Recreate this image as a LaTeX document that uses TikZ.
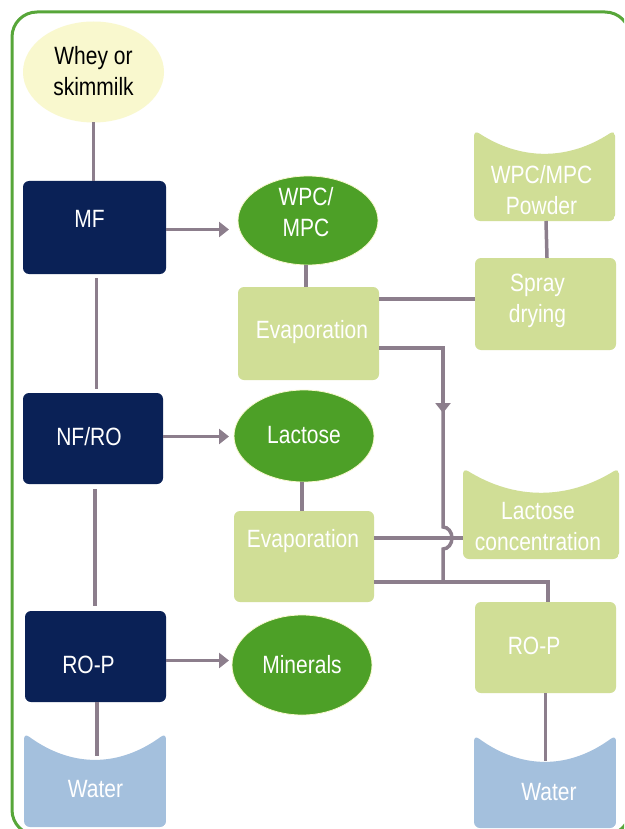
\documentclass[tikz,border=0pt]{standalone}
\usepackage{fontspec}
\setmainfont{Liberation Sans}[FakeStretch=0.84]
\usetikzlibrary{shapes.geometric,arrows.meta,calc}
\definecolor{navy}{HTML}{0A2156}
\definecolor{dgreen}{HTML}{4DA027}
\definecolor{lgreen}{HTML}{D0DE96}
\definecolor{lyellow}{HTML}{F9F8CE}
\definecolor{lblue}{HTML}{A4C0DD}
\definecolor{linegrey}{HTML}{8C7E8C}
\definecolor{bordergreen}{HTML}{57A639}
\tikzset{
  txt/.style={font=\fontsize{25}{31}\selectfont, align=center, text=white},
  box/.style={rectangle, rounded corners=6pt, inner sep=0pt, outer sep=0pt},
  navybox/.style={box, fill=navy},
  lgbox/.style={box, fill=lgreen},
  ell/.style={ellipse, inner sep=0pt, outer sep=0pt},
  gell/.style={ell, fill=dgreen, draw=lyellow, line width=0.8pt},
  concave/.style 2 args={box, path picture={
    \fill[#1] let \p1=(path picture bounding box.north west),
                  \p2=(path picture bounding box.south east) in
      (\x1,\y1) .. controls ({\x1+(\x2-\x1)/3},{\y1-4/3*#2}) and ({\x1+2*(\x2-\x1)/3},{\y1-4/3*#2}) .. (\x2,\y1)
      -- (\x2,\y2) -- (\x1,\y2) -- cycle;}},
  conn/.style={draw=linegrey, line width=3.5pt},
  arr/.style={-{Triangle[length=10pt,width=15pt]}},
}
\begin{document}
\begin{tikzpicture}[x=1pt,y=-1pt]
\clip (0,0) rectangle (624,829);
\fill[white] (0,0) rectangle (624,829);
\draw[bordergreen, line width=3pt, rounded corners=25pt] (12,12) rectangle (630,835);

% left column
\node[ell, fill=lyellow, minimum width=141pt, minimum height=101pt,
      label={[txt,text=black,shift={(0,-1)}]center:Whey or\\skimmilk}] (whey) at (93.5,72) {};
\node[navybox, minimum width=143pt, minimum height=93pt,
      label={[txt,shift={(-5,-9)}]center:MF}] (mf) at (94.5,227.5) {};
\node[navybox, minimum width=140pt, minimum height=91pt,
      label={[txt,shift={(-4,-1.5)}]center:NF/RO}] (nfro) at (93,438.5) {};
\node[navybox, minimum width=141pt, minimum height=91pt,
      label={[txt,shift={(-7,8.5)}]center:RO-P}] (rop1) at (95.5,656.5) {};
\node[concave={lblue}{26pt}, minimum width=142pt, minimum height=94pt,
      label={[txt,shift={(0.5,9)}]center:Water}] (water1) at (95,780) {};

% middle column
\node[gell, minimum width=140pt, minimum height=89pt,
      label={[txt,shift={(-2,-8)}]center:WPC/\\MPC}] (wpc) at (308,220.5) {};
\node[lgbox, minimum width=141pt, minimum height=93pt,
      label={[txt,shift={(3.5,-1.5)}]center:Evaporation}] (evap1) at (308.5,333.5) {};
\node[gell, minimum width=140pt, minimum height=92pt,
      label={[txt,shift={(0,-1)}]center:Lactose}] (lact) at (304,436) {};
\node[lgbox, minimum width=140pt, minimum height=91pt,
      label={[txt,shift={(-1,-15.5)}]center:Evaporation}] (evap2) at (304,556.5) {};
\node[gell, minimum width=140pt, minimum height=100pt,
      label={[txt]center:Minerals}] (min) at (302,665) {};

% right column
\node[concave={lgreen}{23pt}, minimum width=141pt, minimum height=91pt,
      label={[txt,shift={(-3,14.5)}]center:WPC/MPC\\Powder}] (powder) at (544.5,175.5) {};
\node[lgbox, minimum width=141pt, minimum height=92pt,
      label={[txt,shift={(-8,-3)}]center:Spray\\drying}] (spray) at (545.5,304) {};
\node[concave={lgreen}{24pt}, minimum width=156pt, minimum height=91pt,
      label={[txt,shift={(-3,13)}]center:Lactose\\concentration}] (lconc) at (541,513.5) {};
\node[lgbox, minimum width=141pt, minimum height=91pt,
      label={[txt,shift={(-11.5,-1.5)}]center:RO-P}] (rop2) at (545.5,647.5) {};
\node[concave={lblue}{26pt}, minimum width=142pt, minimum height=93pt,
      label={[txt,shift={(4,10.5)}]center:Water}] (water2) at (545,781.5) {};

% helper coordinates
\coordinate (e1a) at ([yshift=-12pt]evap1.north east);
\coordinate (e1b) at ([yshift=-61pt]evap1.north east);
\coordinate (bend) at (443,348);
\coordinate (e2a) at ([yshift=-27pt]evap2.north east);
\coordinate (e2b) at ([yshift=-71pt]evap2.north east);
\coordinate (w1dip) at ([yshift=-23pt]water1.north);
\coordinate (w2dip) at ([yshift=-26pt]water2.north);

% left column connectors
\draw[conn] (whey.south) -- (whey.south |- mf.north);
\draw[conn, shorten <=4pt, shorten >=4pt] ([xshift=2pt]mf.south) -- ([xshift=2pt]mf.south |- nfro.north);
\draw[conn, shorten <=5pt, shorten >=5pt] ([xshift=2pt]nfro.south) -- ([xshift=2pt]nfro.south |- rop1.north);
\draw[conn] ([xshift=1.5pt]rop1.south) -- ([xshift=1.5pt]rop1.south |- w1dip);
\draw[conn, arr, shorten >=9pt] ([yshift=-2pt]mf.east) -- ([yshift=-2pt]mf.east -| wpc.west);
\draw[conn, arr, shorten >=5pt] ([yshift=2pt]nfro.east) -- ([yshift=2pt]nfro.east -| lact.west);
\draw[conn, arr, shorten >=3pt] ([yshift=-4pt]rop1.east) -- ([yshift=-4pt]rop1.east -| min.west);

% middle connectors
\draw[conn] ([xshift=-2pt]wpc.south) -- ([xshift=-2pt]wpc.south |- evap1.north);
\draw[conn] ([xshift=-2pt]lact.south) -- ([xshift=-2pt]lact.south |- evap2.north);
\draw[conn] (e1a) -- (e1a -| spray.west);
\draw[conn, arr] (e1b) -- (bend) -- ++(0,65);
\draw[conn] (bend) -- ([yshift=11pt]bend |- e2a)
   arc[start angle=-90, end angle=90, x radius=9, y radius=11] -- (bend |- e2b);
\draw[conn] (e2a) -- (e2a -| lconc.west);
\draw[conn] (e2b) -| ([xshift=2.5pt]rop2.north);

% right column connectors
\draw[conn] ([xshift=1.5pt]spray.north) -- ([xshift=1.5pt]powder.south);
\draw[conn] (rop2.south) -- (rop2.south |- w2dip);
\end{tikzpicture}
\end{document}
